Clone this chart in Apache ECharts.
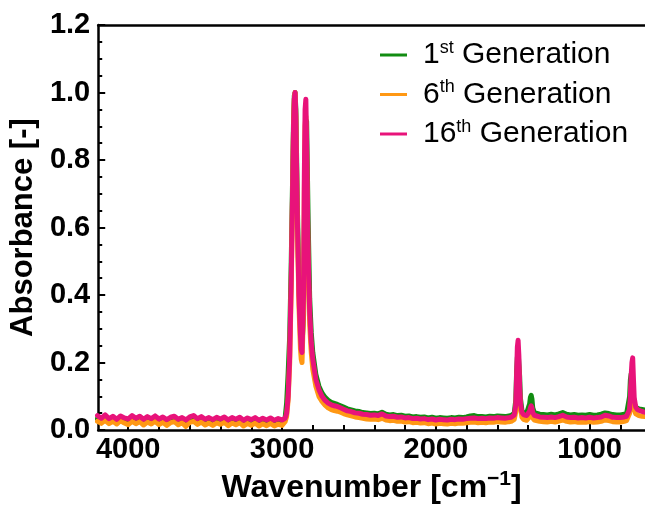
<!DOCTYPE html>
<html>
<head>
<meta charset="utf-8">
<script src="https://cdn.jsdelivr.net/npm/echarts@6/dist/echarts.min.js"></script>
<style>html,body{margin:0;padding:0;background:#fff}#c{width:645px;height:509px}</style>
</head>
<body>
<div id="c"></div>
<script>
const wavenumbers = [
4200,4175,4150,4125,4100,4075,4050,4025,4000,3975,
3950,3925,3900,3875,3850,3825,3800,3775,3750,3725,
3700,3675,3650,3625,3600,3575,3550,3525,3500,3475,
3450,3425,3400,3375,3350,3325,3300,3275,3250,3225,
3200,3175,3150,3125,3100,3075,3050,3025,3000,2990,
2980,2970,2960,2950,2940,2930,2925,2920,2915,2910,
2900,2890,2880,2875,2870,2860,2855,2850,2845,2840,
2830,2820,2810,2800,2780,2760,2740,2720,2700,2680,
2660,2640,2620,2600,2575,2550,2525,2500,2475,2450,
2425,2400,2375,2350,2325,2300,2275,2250,2225,2200,
2175,2150,2125,2100,2075,2050,2025,2000,1975,1950,
1925,1900,1875,1850,1825,1800,1775,1750,1725,1700,
1675,1650,1625,1600,1575,1550,1525,1510,1500,1490,
1480,1475,1470,1465,1460,1455,1450,1440,1430,1420,
1410,1400,1390,1385,1380,1375,1370,1360,1350,1325,
1300,1275,1250,1225,1200,1175,1150,1125,1100,1075,
1050,1025,1000,975,950,925,900,875,850,825,
800,775,760,750,740,735,730,725,720,715,
710,700,690,680,670,660,650,640,630,620
];

const gen1 = [
0.034,0.029,0.038,0.027,0.034,0.025,0.036,0.029,0.026,0.035,
0.028,0.034,0.024,0.032,0.027,0.035,0.025,0.031,0.024,0.032,
0.034,0.025,0.030,0.022,0.032,0.035,0.026,0.033,0.025,0.030,
0.024,0.031,0.026,0.032,0.023,0.030,0.025,0.031,0.022,0.029,
0.024,0.030,0.022,0.028,0.023,0.029,0.021,0.027,0.021,0.026,
0.035,0.080,0.170,0.280,0.500,0.780,0.920,0.990,1.000,0.950,
0.660,0.430,0.310,0.270,0.250,0.340,0.580,0.800,0.890,0.915,
0.620,0.390,0.290,0.230,0.165,0.130,0.110,0.097,0.088,0.082,
0.079,0.076,0.072,0.068,0.063,0.060,0.057,0.055,0.052,0.051,
0.049,0.050,0.048,0.053,0.047,0.045,0.046,0.043,0.044,0.041,
0.042,0.039,0.040,0.038,0.039,0.036,0.038,0.035,0.037,0.036,
0.035,0.037,0.036,0.038,0.037,0.039,0.042,0.043,0.040,0.040,
0.039,0.041,0.040,0.042,0.041,0.040,0.042,0.043,0.045,0.050,
0.090,0.170,0.215,0.232,0.228,0.160,0.095,0.058,0.051,0.050,
0.050,0.055,0.078,0.097,0.103,0.092,0.066,0.052,0.049,0.047,
0.046,0.045,0.047,0.045,0.048,0.052,0.047,0.045,0.046,0.044,
0.045,0.044,0.046,0.044,0.045,0.047,0.051,0.049,0.046,0.045,
0.045,0.047,0.048,0.052,0.100,0.150,0.167,0.160,0.140,0.100,
0.078,0.068,0.065,0.063,0.062,0.061,0.060,0.059,0.058,0.058
];

const gen6 = [
0.026,0.020,0.029,0.019,0.026,0.018,0.028,0.021,0.016,0.026,
0.019,0.025,0.015,0.024,0.018,0.026,0.016,0.023,0.014,0.022,
0.025,0.016,0.022,0.011,0.023,0.026,0.017,0.024,0.015,0.021,
0.014,0.022,0.017,0.023,0.013,0.021,0.016,0.022,0.012,0.020,
0.014,0.021,0.012,0.019,0.013,0.020,0.012,0.018,0.014,0.018,
0.025,0.040,0.090,0.200,0.420,0.740,0.900,0.980,1.000,0.920,
0.600,0.370,0.240,0.210,0.200,0.360,0.700,0.900,0.930,0.820,
0.480,0.310,0.230,0.180,0.130,0.100,0.085,0.074,0.066,0.061,
0.058,0.056,0.053,0.049,0.045,0.042,0.039,0.037,0.035,0.033,
0.032,0.033,0.031,0.035,0.030,0.028,0.029,0.026,0.027,0.024,
0.025,0.022,0.023,0.021,0.022,0.019,0.021,0.018,0.020,0.019,
0.018,0.020,0.019,0.021,0.020,0.022,0.023,0.024,0.022,0.023,
0.022,0.024,0.023,0.025,0.024,0.023,0.025,0.026,0.028,0.032,
0.055,0.120,0.190,0.210,0.180,0.110,0.065,0.038,0.032,0.030,
0.029,0.031,0.040,0.048,0.052,0.047,0.036,0.030,0.028,0.026,
0.025,0.024,0.026,0.024,0.027,0.030,0.026,0.024,0.025,0.023,
0.024,0.023,0.025,0.023,0.024,0.026,0.030,0.028,0.025,0.024,
0.024,0.026,0.028,0.032,0.050,0.080,0.130,0.150,0.140,0.090,
0.060,0.048,0.045,0.043,0.042,0.041,0.040,0.040,0.039,0.039
];

const gen16 = [
0.043,0.035,0.045,0.034,0.041,0.032,0.042,0.036,0.033,0.043,
0.035,0.041,0.032,0.040,0.034,0.042,0.033,0.039,0.031,0.038,
0.041,0.032,0.037,0.030,0.039,0.043,0.034,0.040,0.032,0.037,
0.031,0.038,0.033,0.039,0.030,0.037,0.032,0.038,0.029,0.036,
0.031,0.037,0.029,0.035,0.030,0.036,0.029,0.034,0.030,0.033,
0.035,0.050,0.100,0.220,0.450,0.750,0.900,0.980,1.000,0.930,
0.620,0.400,0.280,0.240,0.230,0.400,0.750,0.950,0.980,0.850,
0.520,0.350,0.260,0.210,0.150,0.120,0.100,0.088,0.080,0.075,
0.072,0.070,0.066,0.062,0.057,0.055,0.051,0.050,0.047,0.046,
0.044,0.045,0.043,0.048,0.042,0.040,0.041,0.038,0.039,0.036,
0.037,0.034,0.035,0.033,0.034,0.031,0.033,0.030,0.032,0.031,
0.030,0.032,0.031,0.033,0.032,0.034,0.035,0.036,0.034,0.035,
0.034,0.036,0.035,0.037,0.036,0.035,0.037,0.038,0.040,0.045,
0.075,0.160,0.245,0.266,0.220,0.130,0.080,0.052,0.046,0.044,
0.043,0.046,0.056,0.066,0.072,0.066,0.052,0.044,0.041,0.039,
0.038,0.037,0.039,0.037,0.040,0.044,0.039,0.037,0.038,0.036,
0.037,0.036,0.038,0.036,0.037,0.039,0.044,0.042,0.038,0.037,
0.037,0.039,0.041,0.046,0.062,0.100,0.160,0.200,0.214,0.150,
0.095,0.068,0.061,0.058,0.057,0.055,0.054,0.053,0.052,0.052
];

const seriesNames = ['1st Generation', '6th Generation', '16th Generation'];
const seriesColors = ['#128c12', '#ff9814', '#e8137a'];
const xMajorTicks = [1000, 2000, 3000, 4000];
const xMinorTicks = [800, 1200, 1400, 1600, 1800, 2200, 2400, 2600, 2800, 3200, 3400, 3600, 3800, 4000];

const FONT = '"Liberation Sans", Arial, sans-serif';
const xMin = 640, xMax = 4195;

const chart = echarts.init(document.getElementById('c'), null, {renderer: 'canvas'});
const values = [gen1, gen6, gen16];

const option = {
  animation: false,
  backgroundColor: '#fff',
  grid: {left: 97, right: 0, top: 25, bottom: 73},
  legend: {
    left: 375, top: 34, orient: 'vertical',
    icon: 'rect', itemWidth: 27, itemHeight: 3, itemGap: 8.5,
    data: seriesNames,
    textStyle: {padding: [0, 0, 0, 11], color: '#000',
      rich: {
        n: {fontFamily: FONT, fontSize: 30, lineHeight: 32, color: '#000'},
        s: {fontFamily: FONT, fontSize: 18, lineHeight: 32, verticalAlign: 'top', color: '#000'}
      }},
    formatter: function (name) {
      const m = name.match(/^(\d+)(st|th)( Generation)$/);
      return '{n|' + m[1] + '}{s|' + m[2] + '}{n|' + m[3] + '}';
    }
  },
  xAxis: [
    {
      type: 'value', inverse: true, min: xMin, max: xMax, position: 'bottom',
      name: '{t|Wavenumber [cm}{u|\u22121}{t|]}', nameLocation: 'middle', nameGap: 31,
      nameTextStyle: {rich: {
        t: {fontFamily: FONT, fontSize: 32, fontWeight: 'bold', color: '#000', lineHeight: 38},
        u: {fontFamily: FONT, fontSize: 21, fontWeight: 'bold', color: '#000', lineHeight: 38, verticalAlign: 'top'}
      }},
      axisLine: {show: true, lineStyle: {color: '#000', width: 2.5}},
      axisTick: {show: true, inside: true, length: 7, lineStyle: {color: '#000', width: 2}, customValues: xMajorTicks},
      axisLabel: {show: true, customValues: xMajorTicks, margin: 5, fontFamily: FONT, fontSize: 29, fontWeight: 'bold', color: '#000',
        formatter: v => String(v)},
      splitLine: {show: false}
    },
    {
      type: 'value', inverse: true, min: xMin, max: xMax, position: 'bottom', offset: 0,
      axisLine: {show: false},
      axisTick: {show: true, inside: true, length: 5, lineStyle: {color: '#000', width: 2}, customValues: xMinorTicks},
      axisLabel: {show: false},
      splitLine: {show: false}
    },
    {
      type: 'value', inverse: true, min: xMin, max: xMax, position: 'top',
      axisLine: {show: true, lineStyle: {color: '#000', width: 2.5}},
      axisTick: {show: false}, axisLabel: {show: false}, splitLine: {show: false}
    }
  ],
  yAxis: {
    type: 'value', min: 0, max: 1.2, interval: 0.2,
    name: 'Absorbance [-]', nameLocation: 'middle', nameGap: 57, nameRotate: 90,
    nameTextStyle: {fontFamily: FONT, fontSize: 31, fontWeight: 'bold', color: '#000'},
    axisLine: {show: true, lineStyle: {color: '#000', width: 2.5}},
    axisTick: {show: true, inside: true, length: 7, lineStyle: {color: '#000', width: 2}},
    minorTick: {show: true, splitNumber: 4, length: 4, lineStyle: {color: '#000', width: 2}},
    axisLabel: {margin: 8, fontFamily: FONT, fontSize: 29, fontWeight: 'bold', color: '#000',
      formatter: v => v.toFixed(1)},
    splitLine: {show: false}
  },
  series: seriesNames.map((name, i) => ({
    name: name, type: 'line', xAxisIndex: 0, showSymbol: false, symbol: 'none',
    color: seriesColors[i],
    lineStyle: {width: 5, color: seriesColors[i], join: 'round', cap: 'round'},
    z: 2 + i,
    data: wavenumbers.map((w, k) => [w, values[i][k]])
  }))
};
chart.setOption(option);
</script>
</body>
</html>
